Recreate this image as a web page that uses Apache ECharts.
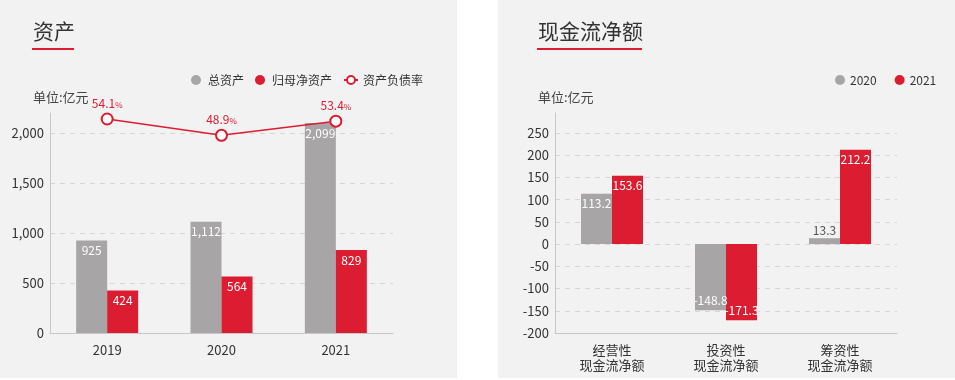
<!DOCTYPE html>
<html><head><meta charset="utf-8">
<script src="https://cdn.jsdelivr.net/npm/echarts@6/dist/echarts.min.js"></script>
<style>
html,body{margin:0;padding:0;background:#fff;width:955px;height:380px;overflow:hidden}
#c1{position:absolute;left:0;top:0;width:457px;height:378px;background:#f2f2f2}
#c2{position:absolute;left:498px;top:0;width:457px;height:378px;background:#f2f2f2}
</style></head><body>
<div id="c1"></div><div id="c2"></div>
<script>
// ---- data ----
const assetYears = ['2019', '2020', '2021'];
const totalAssets = [925, 1112, 2099];
const netAssets = [424, 564, 829];
const debtRatio = [54.1, 48.9, 53.4];

const cashCats = ['经营性\n现金流净额', '投资性\n现金流净额', '筹资性\n现金流净额'];
const cash2020 = [113.2, -148.8, 13.3];
const cash2021 = [153.6, -171.3, 212.2];

// ---- styles ----
const GRAY = '#a7a5a6', RED = '#dc1c30', TXT = '#333';
const FONT = "'Noto Sans CJK SC', 'Noto Sans', sans-serif";
const NUMF = "'Noto Sans CJK SC', 'Noto Sans', sans-serif";
const fmt = v => v.toLocaleString('en-US');

function baseTitle(text, x, underlineW) {
  return {
    title: [
      {text: text, left: x - 5, top: 16, padding: 5, textStyle: {fontFamily: FONT, fontSize: 21, fontWeight: 'normal', color: TXT}},
      {text: '单位:亿元', left: x - 5, top: 86, padding: 5, textStyle: {fontFamily: FONT, fontSize: 13, fontWeight: 'normal', color: '#444'}}
    ],
    graphic: [{type: 'rect', left: x - 1, top: 48, shape: {width: underlineW, height: 2}, style: {fill: RED}}]
  };
}

// ---- left chart ----
const c1 = echarts.init(document.getElementById('c1'));
c1.setOption(Object.assign(baseTitle('资产', 33, 42), {
  textStyle: {fontFamily: FONT},
  animation: false,
  legend: {
    left: 186, top: 69, itemWidth: 14, itemHeight: 10, itemGap: 11,
    textStyle: {fontFamily: FONT, fontSize: 12, color: TXT},
    data: [{name: '总资产', icon: 'circle'}, {name: '归母净资产', icon: 'circle'}, {name: '资产负债率'}]
  },
  grid: {left: 50, width: 343, top: 113, height: 220},
  xAxis: {
    type: 'category', data: assetYears,
    axisLine: {lineStyle: {color: '#c8c8c8'}}, axisTick: {show: false},
    axisLabel: {color: TXT, fontSize: 13, margin: 11, fontFamily: FONT}
  },
  yAxis: [{
    type: 'value', min: 0, max: 2200, interval: 500,
    axisLine: {show: true, lineStyle: {color: '#c8c8c8'}}, axisTick: {show: false},
    axisLabel: {color: TXT, fontSize: 13, margin: 6, fontFamily: FONT, showMaxLabel: false, formatter: v => v % 500 === 0 ? fmt(v) : ''},
    splitLine: {showMaxLine: false, lineStyle: {color: '#d6d6d6', type: [5, 5]}}
  }, {
    type: 'value', min: -14, max: 56, show: false, splitLine: {show: false}
  }],
  series: [{
    name: '总资产', type: 'bar', data: totalAssets, barWidth: 31, barGap: '0%',
    itemStyle: {color: GRAY},
    label: {show: true, position: 'insideTop', distance: 4, color: '#fff', fontSize: 12, fontFamily: NUMF, formatter: p => fmt(p.value)}
  }, {
    name: '归母净资产', type: 'bar', data: netAssets, barWidth: 31,
    itemStyle: {color: RED},
    label: {show: true, position: 'insideTop', distance: 4, color: '#fff', fontSize: 12, fontFamily: NUMF, formatter: p => fmt(p.value)}
  }, {
    name: '资产负债率', type: 'line', yAxisIndex: 1, data: debtRatio,
    symbol: 'circle', symbolSize: 11,
    itemStyle: {color: '#fff', borderColor: RED, borderWidth: 2},
    lineStyle: {color: RED, width: 1.5},
    label: {
      show: true, position: 'top', distance: 3,
      formatter: p => '{v|' + p.value + '}{p|%}',
      rich: {v: {color: RED, fontSize: 12, fontFamily: NUMF}, p: {color: RED, fontSize: 8, fontFamily: NUMF, padding: [3, 0, 0, 0]}}
    }
  }]
}));

// ---- right chart ----
function cashItems(vals) {
  return vals.map(v => {
    const small = Math.abs(v) < 30;
    return {
      value: v,
      label: small
        ? {position: 'top', distance: 2, color: '#555'}
        : {position: v >= 0 ? 'insideTop' : 'insideBottom', distance: 4, color: '#fff'}
    };
  });
}
const c2 = echarts.init(document.getElementById('c2'));
c2.setOption(Object.assign(baseTitle('现金流净额', 40, 105), {
  textStyle: {fontFamily: FONT},
  animation: false,
  legend: {
    left: 332, top: 69, itemWidth: 10, itemHeight: 10, itemGap: 18, icon: 'circle',
    textStyle: {fontFamily: FONT, fontSize: 12, color: TXT},
    data: ['2020', '2021']
  },
  grid: {left: 57, width: 342, top: 113, height: 220},
  xAxis: {
    type: 'category', data: cashCats,
    axisLine: {onZero: false, lineStyle: {color: '#c8c8c8'}}, axisTick: {show: false},
    axisLabel: {color: TXT, fontSize: 13, lineHeight: 15, margin: 10, fontFamily: FONT}
  },
  yAxis: {
    type: 'value', min: -200, max: 295, interval: 50,
    axisLine: {show: true, lineStyle: {color: '#c8c8c8'}}, axisTick: {show: false},
    axisLabel: {color: TXT, fontSize: 13, margin: 6, fontFamily: FONT, showMaxLabel: false, formatter: v => v % 50 === 0 ? String(v) : ''},
    splitLine: {showMaxLine: false, lineStyle: {color: '#d6d6d6', type: [5, 5]}}
  },
  series: [{
    name: '2020', type: 'bar', data: cashItems(cash2020), barWidth: 31, barGap: '0%',
    itemStyle: {color: GRAY},
    label: {show: true, fontSize: 12, fontFamily: NUMF}
  }, {
    name: '2021', type: 'bar', data: cashItems(cash2021), barWidth: 31,
    itemStyle: {color: RED},
    label: {show: true, fontSize: 12, fontFamily: NUMF}
  }]
}));
</script>
</body></html>
